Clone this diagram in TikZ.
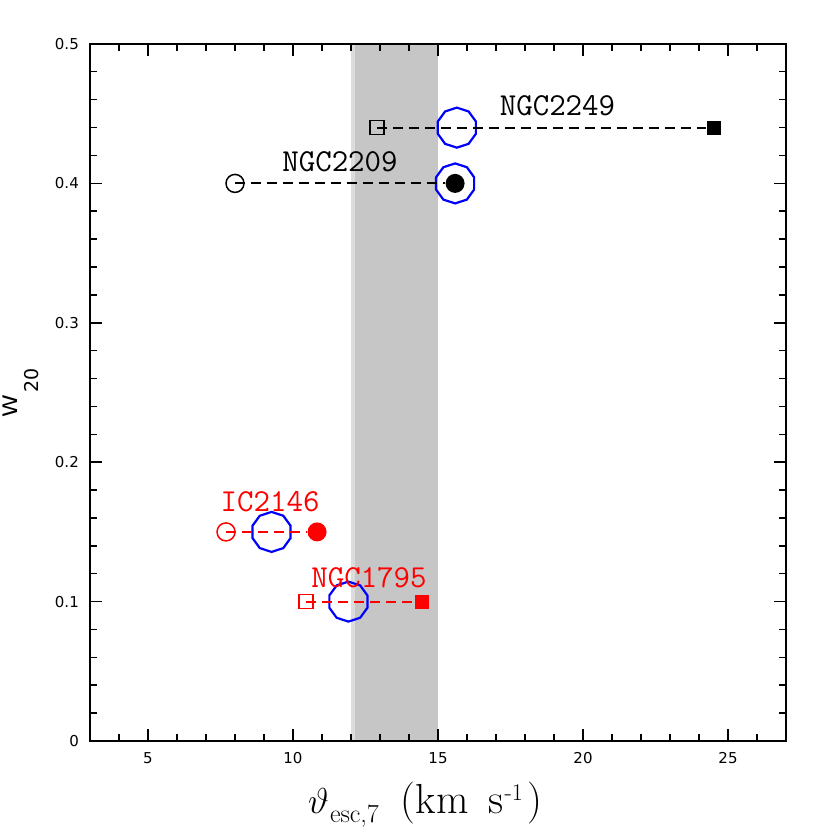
\documentclass[tikz,border=0pt]{standalone}
\usepackage{fontspec}
\newfontfamily\tickfont{DejaVu Sans}
\usetikzlibrary{shapes.geometric}
\definecolor{bandgray}{RGB}{198,198,198}
\definecolor{bandedge}{RGB}{220,220,220}
\tikzset{
  frameline/.style={line width=2pt},
  tickline/.style={line width=1.5pt},
  ocirc/.style={circle,draw,line width=1.5pt,minimum size=18pt,inner sep=0pt},
  fcirc/.style={circle,fill,minimum size=19pt,inner sep=0pt},
  osq/.style={rectangle,draw,line width=1.5pt,minimum size=14pt,inner sep=0pt},
  fsq/.style={rectangle,fill,minimum size=14pt,inner sep=0pt},
  bluering/.style={regular polygon,regular polygon sides=10,shape border rotate=18,draw=blue,line width=2.2pt,minimum size=40pt,inner sep=0pt},
  conn/.style={dash pattern=on 10pt off 6pt,line width=1.9pt},
  lab/.style={font=\fontsize{32}{32}\selectfont\ttfamily,anchor=base,inner sep=0pt},
  ticklab/.style={font=\tickfont\fontsize{15}{15}\selectfont,inner sep=0pt}
}
\begin{document}
\begin{tikzpicture}[x=1pt,y=-1pt]
\useasboundingbox (0,0) rectangle (830,830);
\begin{scope}[shift={(3,741)},x=29pt,y=1394pt]
  % shaded band
  \fill[bandgray] (12,0) rectangle (15,0.5);
  \fill[bandedge] (12,0) rectangle (12.14,0.5);
  % x ticks
  \foreach \v in {4,...,26} {
    \draw[tickline] (\v,0) -- ++(0,7pt);
    \draw[tickline] (\v,0.5) -- ++(0,-7pt);
  }
  \foreach \v in {5,10,15,20,25} {
    \draw[tickline] (\v,0) -- ++(0,12pt);
    \draw[tickline] (\v,0.5) -- ++(0,-12pt);
    \node[ticklab] at (\v,0) [yshift=-17pt] {\v};
  }
  % y ticks
  \foreach \i in {1,...,24} {
    \draw[tickline] (3,{\i*0.02}) -- ++(7pt,0);
    \draw[tickline] (27,{\i*0.02}) -- ++(-7pt,0);
  }
  \foreach \i in {1,...,4} {
    \draw[tickline] (3,{\i*0.1}) -- ++(12pt,0);
    \draw[tickline] (27,{\i*0.1}) -- ++(-12pt,0);
  }
  \node[ticklab,anchor=east] at (3,0) [xshift=-11pt] {0};
  \foreach \i in {1,...,5} {
    \node[ticklab,anchor=east] at (3,{\i*0.1}) [xshift=-11pt] {0.\i};
  }
  % frame
  \draw[frameline] (3,0) rectangle (27,0.5);

  % NGC2249
  \node[osq] (a1) at (12.9,0.44) {};
  \node[bluering] (a2) at (15.65,0.44) {};
  \node[fsq] (a3) at (24.5,0.44) {};
  \draw[conn] (a1.center) -- (a3);
  \node[lab] (la) at (19.12,0.4484) {NGC2249};

  % NGC2209
  \node[ocirc] (b1) at (8.0,0.4) {};
  \node[bluering] (b2) at (15.59,0.4) {};
  \node[fcirc] (b3) at (15.59,0.4) {};
  \draw[conn] (b1.center) -- (b3);
  \node[lab] (lb) at (11.62,0.4082) {NGC2209};

  % IC2146
  \node[ocirc,red] (c1) at (7.69,0.15) {};
  \node[bluering] (c2) at (9.26,0.15) {};
  \node[fcirc,red] (c3) at (10.83,0.15) {};
  \draw[conn,red] (c1.center) -- (c3);
  \node[lab,red] (lc) at (9.21,0.1643) {IC2146};

  % NGC1795
  \node[osq,red] (d1) at (10.45,0.1) {};
  \node[bluering] (d2) at (11.91,0.1) {};
  \node[fsq,red] (d3) at (14.45,0.1) {};
  \draw[conn,red] (d1.center) -- (d3);
  \node[lab,red] (ld) at (12.62,0.1098) {NGC1795};
\end{scope}
% axis labels
\node[font=\fontsize{42}{42}\selectfont,anchor=base west,inner sep=0pt] (xl) at (308,813)
  {\scalebox{1.45}{\fontsize{24}{24}\selectfont$\vartheta$}\hspace{1pt}\raisebox{-9pt}{\fontsize{26}{26}\selectfont esc,7}\hspace{22pt}(km\hspace{20pt}s\hspace{1pt}\raisebox{13pt}{\fontsize{24}{24}\selectfont -1}\hspace{5pt})};
\node[rotate=90,font=\tickfont\fontsize{20}{20}\selectfont,inner sep=0pt] (yl) at (10.5,406.5) {\scalebox{1.15}[1]{W}};
\node[rotate=90,font=\tickfont\fontsize{19}{19}\selectfont,inner sep=0pt] (ys) at (31.5,380) {20};
\end{tikzpicture}
\end{document}
